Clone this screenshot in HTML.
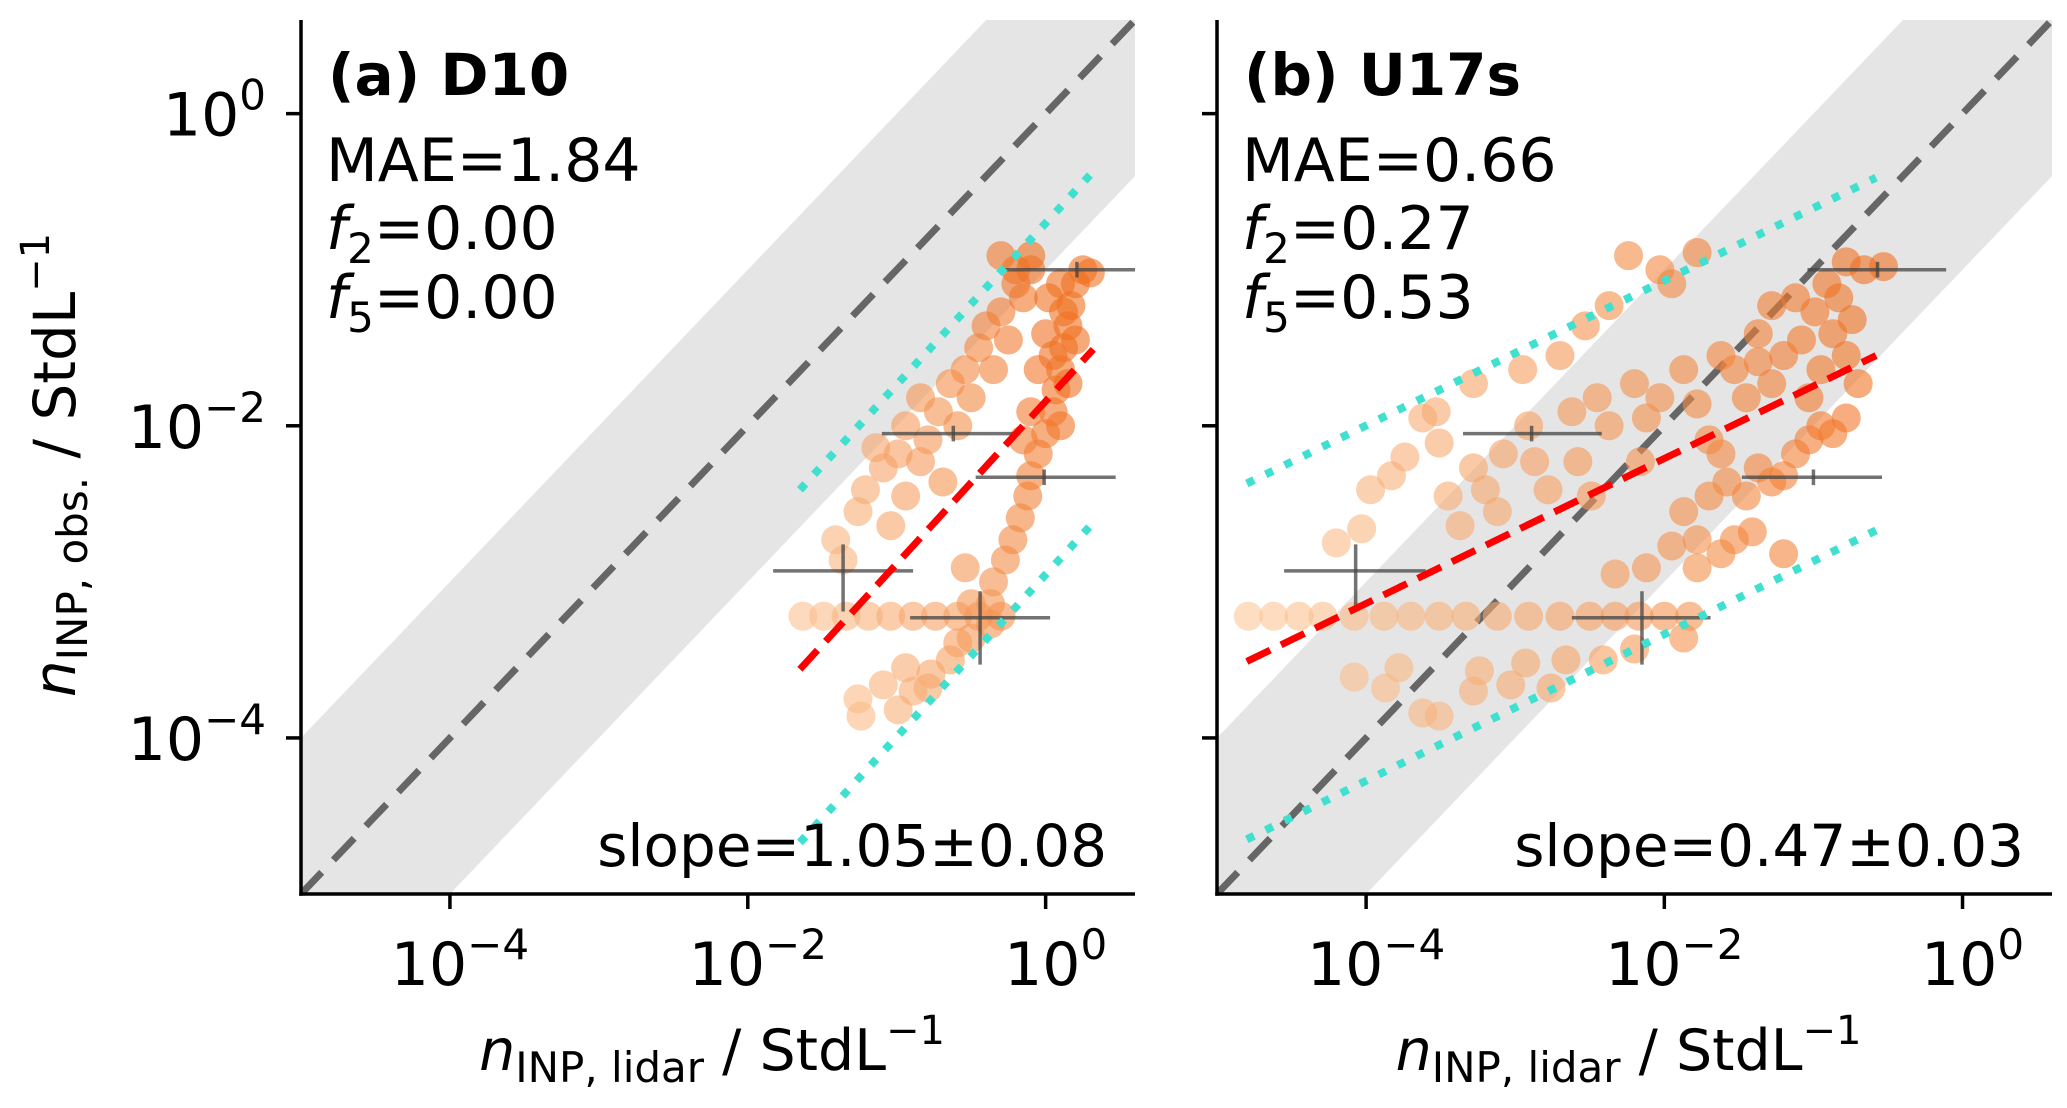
<!DOCTYPE html>
<html><head><meta charset="utf-8"><style>
html,body{margin:0;padding:0;background:#fff;}
svg{display:block;font-family:"DejaVu Sans","Liberation Sans",sans-serif;}
</style></head><body>
<svg id="fig" width="2067" height="1108" viewBox="0 0 2067 1108" xmlns="http://www.w3.org/2000/svg"></svg>
<script>
// ---- data (log10 values) ----
const axisMin = -5, axisMax = 0.6;
const xTickExps = [-4, -2, 0];
const yTickExps = [0, -2, -4];
// panel a scatter
const aX = [-1.63,-1.49,-1.34,-1.19,-1.04,-0.89,-0.74,-0.59,-0.45,-0.30,
 -1.26,-1.09,-0.94,-0.79,-0.64,-0.59,-0.50,-0.37,-1.24,-0.99,-0.77,-0.89,
 -1.41,-1.36,-1.26,-1.21,-1.09,-1.14,-0.99,-0.94,-0.84,-0.79,-0.72,-0.64,-0.59,-0.54,-0.50,-0.45,-0.40,-0.35,-0.30,-0.25,-0.20,-0.15,-0.10,-0.30,-0.84,-0.69,-0.94,-1.04,
 -0.35,-0.27,-0.22,-0.17,-0.12,-0.10,-0.05,0.00,0.05,0.07,0.10,0.12,0.15,0.17,0.20,0.25,0.30,0.10,0.02,0.12,0.00,-0.05,0.05,-0.10,-0.15,0.10,0.15,0.20,-0.37,-0.50,-0.54,-0.20,-0.10];
const aY = [-3.22,-3.22,-3.22,-3.22,-3.22,-3.22,-3.22,-3.22,-3.22,-3.22,
 -3.75,-3.66,-3.55,-3.68,-3.50,-3.39,-3.36,-3.27,-3.86,-3.82,-3.59,-3.70,
 -2.73,-2.86,-2.55,-2.41,-2.27,-2.14,-2.18,-2.00,-1.82,-2.09,-1.91,-1.73,-2.00,-1.64,-1.82,-1.50,-1.36,-1.64,-1.27,-1.45,-1.09,-1.18,-0.91,-0.91,-2.23,-2.36,-2.45,-2.64,
 -3.00,-2.86,-2.73,-2.59,-2.45,-2.32,-2.18,-2.05,-1.91,-1.77,-1.64,-1.50,-1.36,-1.23,-1.09,-1.00,-1.02,-1.09,-1.18,-1.27,-1.41,-1.64,-1.55,-1.91,-2.09,-2.00,-1.73,-1.45,-3.14,-3.14,-2.91,-1.00,-1.00];
// panel b scatter
const bX = [-4.79,-4.62,-4.45,-4.29,-4.08,-3.88,-3.70,-3.51,-3.33,-3.12,-2.91,-2.70,-2.50,-2.33,-2.17,-2.00,-1.83,
 -4.08,-3.87,-3.62,-3.51,-3.24,-3.03,-2.93,-2.76,-2.66,-2.41,-2.20,-1.87,-3.78,-3.28,
 -4.20,-4.03,-3.97,-3.83,-3.74,-3.62,-3.51,-3.45,-3.37,-3.28,-3.20,-3.12,-3.08,-2.91,-2.87,-2.78,-2.62,-2.58,-2.49,-2.45,-2.37,-2.20,-2.12,-2.16,-2.24,-2.03,-1.78,-2.70,-2.95,-3.28,-3.53,-2.53,-2.37,-1.95,-1.78,-1.87,-2.03,
 -1.78,-1.62,-1.53,-1.78,-1.87,-1.70,-1.58,-1.45,-1.37,-1.28,-1.20,-1.12,-1.03,-0.95,-0.87,-0.78,-0.70,-0.78,-0.87,-0.99,-1.08,-1.20,-1.28,-1.37,-1.45,-1.53,-1.62,-1.37,-1.28,-1.12,-0.91,-0.78,-0.66,-0.53,-0.74,-0.83,-1.03,-0.95,-1.70,-1.62,-1.20,-1.41,-1.95,-2.12,-2.33];
const bY = [-3.22,-3.22,-3.22,-3.22,-3.22,-3.22,-3.22,-3.22,-3.22,-3.22,-3.22,-3.22,-3.22,-3.22,-3.22,-3.22,-3.22,
 -3.61,-3.68,-3.84,-3.86,-3.57,-3.66,-3.52,-3.68,-3.50,-3.50,-3.43,-3.36,-3.55,-3.70,
 -2.75,-2.66,-2.41,-2.32,-2.20,-1.95,-2.11,-2.45,-2.64,-2.27,-2.41,-2.55,-2.18,-2.00,-2.23,-2.41,-1.91,-2.23,-2.45,-1.82,-2.00,-1.73,-1.95,-2.23,-0.91,-1.00,-0.89,-1.55,-1.64,-1.73,-1.91,-1.36,-1.23,-1.09,-1.86,-1.64,-1.82,
 -2.91,-2.82,-2.73,-2.73,-2.55,-2.45,-2.36,-2.45,-2.27,-2.36,-2.32,-2.18,-2.09,-2.00,-2.05,-1.95,-1.73,-1.55,-1.41,-1.27,-1.45,-1.55,-1.73,-1.59,-1.82,-1.64,-1.55,-1.41,-1.23,-1.18,-1.09,-0.95,-1.00,-0.98,-1.32,-1.18,-1.82,-1.64,-2.09,-2.18,-2.82,-2.68,-2.77,-2.91,-2.95];
// error bars
const aErrX = [0.21,-0.62,-0.01,-1.36,-0.44];
const aErrY = [-1.00,-2.05,-2.33,-2.93,-3.23];
const aErrXlo = [-0.27,-1.10,-0.47,-1.83,-0.91];
const aErrXhi = [0.60,-0.17,0.47,-0.89,0.03];
const bErrX = [-0.57,-2.89,-1.00,-4.07,-2.15];
const bErrY = [-1.00,-2.05,-2.33,-2.93,-3.23];
const bErrXlo = [-1.04,-3.35,-1.48,-4.55,-2.62];
const bErrXhi = [-0.11,-2.42,-0.54,-3.60,-1.69];
const errYlo = [-1.05,-2.10,-2.38,-3.19,-3.53];
const errYhi = [-0.95,-2.00,-2.28,-2.76,-3.06];
// fit lines
const aFitX = [-1.65,0.32], aFitY = [-3.56,-1.51];
const aUpY = [-2.41,-0.37], aLoY = [-4.67,-2.62];
const bFitX = [-4.80,-0.58], bFitY = [-3.51,-1.55];
const bUpY = [-2.37,-0.41], bLoY = [-4.65,-2.67];
const bandHalfWidth = 1;

const NS = "http://www.w3.org/2000/svg";
const svg = document.getElementById('fig');
function mk(tag, attrs, parent){ const e=document.createElementNS(NS,tag); for(const k in attrs) e.setAttribute(k,attrs[k]); (parent||svg).appendChild(e); return e; }
function lerp(a,b,t){return a+(b-a)*t;}
function orangeColor(t){ t=Math.max(0,Math.min(1,t));
  const c1=[252,205,160], c2=[240,112,32];
  return `rgb(${Math.round(lerp(c1[0],c2[0],t))},${Math.round(lerp(c1[1],c2[1],t))},${Math.round(lerp(c1[2],c2[2],t))})`; }

function panel(cfg){
  const L=cfg.left, R=cfg.right, T=20, B=894;
  const sx = v => L + (v-axisMin)/(axisMax-axisMin)*(R-L);
  const sy = v => B - (v-axisMin)/(axisMax-axisMin)*(B-T);
  const g = mk('g',{});
  
  
  const cid='clip-'+cfg.name;
  const cp = mk('clipPath',{id:cid},g); mk('rect',{x:L,y:T,width:R-L,height:B-T},cp);
  const pg = mk('g',{'clip-path':`url(#${cid})`},g);
  const band = mk('polygon',{points:[
    [sx(axisMin),sy(axisMin+bandHalfWidth)],[sx(axisMax-bandHalfWidth),sy(axisMax)],[sx(axisMax),sy(axisMax)],
    [sx(axisMax),sy(axisMax-bandHalfWidth)],[sx(axisMin+bandHalfWidth),sy(axisMin)],[sx(axisMin),sy(axisMin)]].map(p=>p.join(',')).join(' '),
    fill:'#e5e5e5'},pg);
  
  
  const one = mk('line',{x1:sx(axisMin),y1:sy(axisMin),x2:sx(axisMax),y2:sy(axisMax),stroke:'#666',
    'stroke-width':7,'stroke-dasharray':'30 17'},pg);
  
  
  const xs=cfg.xs, ys=cfg.ys;
  for(let i=0;i<xs.length;i++){
    const t = cfg.col(xs[i],ys[i]);
    const c = mk('circle',{cx:sx(xs[i]),cy:sy(ys[i]),r:14.5,fill:orangeColor(t),'fill-opacity':0.6},pg);
    
    
  }
  for(let i=0;i<cfg.ex.length;i++){
    const h = mk('line',{x1:sx(cfg.exlo[i]),x2:sx(cfg.exhi[i]),y1:sy(cfg.ey[i]),y2:sy(cfg.ey[i]),stroke:'#444','stroke-opacity':0.75,'stroke-width':3.5},pg);
    
    
    const v = mk('line',{x1:sx(cfg.ex[i]),x2:sx(cfg.ex[i]),y1:sy(errYlo[i]),y2:sy(errYhi[i]),stroke:'#444','stroke-opacity':0.75,'stroke-width':3.5},pg);
    
    
  }
  const fx=cfg.fitX;
  [[cfg.upY,'upper-bound-line'],[cfg.loY,'lower-bound-line']].forEach(([yy,nm])=>{
    const l = mk('line',{x1:sx(fx[0]),y1:sy(yy[0]),x2:sx(fx[1]),y2:sy(yy[1]),stroke:'#40e0d0','stroke-width':8,'stroke-dasharray':'8 13'},pg);
    
    
  });
  const fl = mk('line',{x1:sx(fx[0]),y1:sy(cfg.fitY[0]),x2:sx(fx[1]),y2:sy(cfg.fitY[1]),stroke:'#ff0000','stroke-width':7,'stroke-dasharray':'26 12'},pg);
  
  
  const ya = mk('line',{x1:L,y1:T,x2:L,y2:B+1.75,stroke:'#000','stroke-width':3.5},g);
   
  const xa = mk('line',{x1:L-1.75,y1:B,x2:R,y2:B,stroke:'#000','stroke-width':3.5},g);
   
  xTickExps.forEach(e=>{
    const tk = mk('line',{x1:sx(e),x2:sx(e),y1:B,y2:B+15,stroke:'#000','stroke-width':3.5},g);
     
    const tx = mk('text',{x:sx(e)+10,y:985,'font-size':60,'text-anchor':'middle'},g);
     
    tx.innerHTML = `10<tspan dy="-26" font-size="42">${e===0?'0':'\u2212'+(-e)}</tspan>`;
  });
  yTickExps.forEach(e=>{
    const tk = mk('line',{x1:L-15,x2:L,y1:sy(e),y2:sy(e),stroke:'#000','stroke-width':3.5},g);
     
    if(cfg.yLabels){
      const tx = mk('text',{x:L-35,y:sy(e)+22,'font-size':60,'text-anchor':'end'},g);
       
      tx.innerHTML = `10<tspan dy="-26" font-size="42">${e===0?'0':'\u2212'+(-e)}</tspan>`;
    }
  });
  const tl = mk('text',{x:L+27,y:95,'font-size':58,'font-weight':'bold'},g);
  tl.textContent = cfg.title;
   
  const m = mk('text',{x:L+25,y:181,'font-size':60},g);
  m.textContent = cfg.mae;
   
  const f2 = mk('text',{x:L+25,y:249,'font-size':60},g);
  f2.innerHTML = `<tspan font-style="italic">f</tspan><tspan dy="14" font-size="42">2</tspan><tspan dy="-14">=${cfg.f2}</tspan>`;
   
  const f5 = mk('text',{x:L+25,y:318,'font-size':60},g);
  f5.innerHTML = `<tspan font-style="italic">f</tspan><tspan dy="14" font-size="42">5</tspan><tspan dy="-14">=${cfg.f5}</tspan>`;
   
  const sl = mk('text',{x:R-28,y:866,'font-size':58,'text-anchor':'end'},g);
  sl.textContent = cfg.slope;
   
  const xt = mk('text',{x:(L+R)/2-6,y:1070,'font-size':57,'text-anchor':'middle'},g);
  xt.innerHTML = `<tspan font-style="italic">n</tspan><tspan dy="12" font-size="42">INP, lidar</tspan><tspan dy="-12"> / StdL</tspan><tspan dy="-26" font-size="40">\u22121</tspan>`;
   
}

panel({name:'panel-a-d10',left:301,right:1135,xs:aX,ys:aY,col:(x,y)=>((x+1.7)/1.9)*0.75+((y+4)/3)*0.35,
  ex:aErrX,ey:aErrY,exlo:aErrXlo,exhi:aErrXhi,fitX:aFitX,fitY:aFitY,upY:aUpY,loY:aLoY,yLabels:true,
  title:'(a) D10',mae:'MAE=1.84',f2:'0.00',f5:'0.00',slope:'slope=1.05\u00b10.08'});
panel({name:'panel-b-u17s',left:1217,right:2052,xs:bX,ys:bY,col:(x,y)=>((x+4.8)/4.3)*0.85+((y+4)/3)*0.2,
  ex:bErrX,ey:bErrY,exlo:bErrXlo,exhi:bErrXhi,fitX:bFitX,fitY:bFitY,upY:bUpY,loY:bLoY,yLabels:false,
  title:'(b) U17s',mae:'MAE=0.66',f2:'0.27',f5:'0.53',slope:'slope=0.47\u00b10.03'});

const yt = mk('text',{transform:'translate(75,465) rotate(-90)','font-size':58,'text-anchor':'middle'});
yt.innerHTML = `<tspan font-style="italic">n</tspan><tspan dy="12" font-size="42">INP, obs.</tspan><tspan dy="-12">   / StdL</tspan><tspan dy="-26" font-size="40">\u22121</tspan>`;


</script>
</body></html>
